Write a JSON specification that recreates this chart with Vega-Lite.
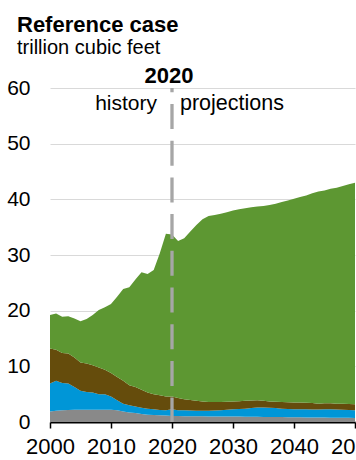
{
  "$schema": "https://vega.github.io/schema/vega-lite/v6.json",
  "width": 305,
  "height": 334,
  "autosize": {"type": "none"},
  "padding": {"left": 50, "top": 88, "right": 1, "bottom": 38},
  "background": "white",
  "config": {"font": "Liberation Sans", "view": {"stroke": null}},
  "title": {
    "text": "Reference case",
    "subtitle": "trillion cubic feet",
    "anchor": "start",
    "frame": "group",
    "fontSize": 22,
    "fontWeight": "bold",
    "color": "black",
    "subtitleFontSize": 20,
    "subtitleColor": "black",
    "subtitlePadding": 1,
    "offset": 6,
    "dx": -33
  },
  "layer": [
    {
      "data": {
        "values": [
          {"year": 2000, "Offshore": 1.9, "Other onshore": 5.0, "Tight gas": 6.3, "Tight oil and shale gas": 6.0},
          {"year": 2001, "Offshore": 2.0, "Other onshore": 5.4, "Tight gas": 5.6, "Tight oil and shale gas": 6.5},
          {"year": 2002, "Offshore": 2.1, "Other onshore": 4.9, "Tight gas": 5.4, "Tight oil and shale gas": 6.5},
          {"year": 2003, "Offshore": 2.15, "Other onshore": 4.75, "Tight gas": 5.4, "Tight oil and shale gas": 6.7},
          {"year": 2004, "Offshore": 2.2, "Other onshore": 4.1, "Tight gas": 5.3, "Tight oil and shale gas": 7.0},
          {"year": 2005, "Offshore": 2.2, "Other onshore": 3.4, "Tight gas": 5.1, "Tight oil and shale gas": 7.4},
          {"year": 2006, "Offshore": 2.2, "Other onshore": 3.2, "Tight gas": 5.1, "Tight oil and shale gas": 8.0},
          {"year": 2007, "Offshore": 2.2, "Other onshore": 3.1, "Tight gas": 4.9, "Tight oil and shale gas": 9.0},
          {"year": 2008, "Offshore": 2.2, "Other onshore": 2.8, "Tight gas": 4.8, "Tight oil and shale gas": 10.3},
          {"year": 2009, "Offshore": 2.2, "Other onshore": 2.8, "Tight gas": 4.4, "Tight oil and shale gas": 11.2},
          {"year": 2010, "Offshore": 2.2, "Other onshore": 2.4, "Tight gas": 4.2, "Tight oil and shale gas": 12.4},
          {"year": 2011, "Offshore": 2.1, "Other onshore": 1.8, "Tight gas": 4.2, "Tight oil and shale gas": 14.4},
          {"year": 2012, "Offshore": 1.9, "Other onshore": 1.4, "Tight gas": 4.1, "Tight oil and shale gas": 16.5},
          {"year": 2013, "Offshore": 1.7, "Other onshore": 1.3, "Tight gas": 3.6, "Tight oil and shale gas": 17.6},
          {"year": 2014, "Offshore": 1.6, "Other onshore": 1.2, "Tight gas": 3.5, "Tight oil and shale gas": 19.3},
          {"year": 2015, "Offshore": 1.45, "Other onshore": 1.1, "Tight gas": 3.25, "Tight oil and shale gas": 21.1},
          {"year": 2016, "Offshore": 1.3, "Other onshore": 1.1, "Tight gas": 2.9, "Tight oil and shale gas": 21.3},
          {"year": 2017, "Offshore": 1.25, "Other onshore": 1.05, "Tight gas": 2.7, "Tight oil and shale gas": 22.3},
          {"year": 2018, "Offshore": 1.2, "Other onshore": 0.95, "Tight gas": 2.65, "Tight oil and shale gas": 25.5},
          {"year": 2019, "Offshore": 1.15, "Other onshore": 0.95, "Tight gas": 2.5, "Tight oil and shale gas": 29.2},
          {"year": 2020, "Offshore": 1.1, "Other onshore": 1.2, "Tight gas": 2.3, "Tight oil and shale gas": 29.1},
          {"year": 2021, "Offshore": 1.1, "Other onshore": 1.0, "Tight gas": 2.2, "Tight oil and shale gas": 28.2},
          {"year": 2022, "Offshore": 1.05, "Other onshore": 1.05, "Tight gas": 2.0, "Tight oil and shale gas": 28.9},
          {"year": 2023, "Offshore": 1.05, "Other onshore": 1.0, "Tight gas": 1.9, "Tight oil and shale gas": 30.25},
          {"year": 2024, "Offshore": 1.05, "Other onshore": 0.95, "Tight gas": 1.8, "Tight oil and shale gas": 31.6},
          {"year": 2025, "Offshore": 1.05, "Other onshore": 0.95, "Tight gas": 1.7, "Tight oil and shale gas": 32.7},
          {"year": 2026, "Offshore": 1.0, "Other onshore": 1.0, "Tight gas": 1.6, "Tight oil and shale gas": 33.4},
          {"year": 2027, "Offshore": 1.0, "Other onshore": 1.05, "Tight gas": 1.55, "Tight oil and shale gas": 33.6},
          {"year": 2028, "Offshore": 1.0, "Other onshore": 1.1, "Tight gas": 1.5, "Tight oil and shale gas": 33.8},
          {"year": 2029, "Offshore": 1.0, "Other onshore": 1.2, "Tight gas": 1.45, "Tight oil and shale gas": 34.05},
          {"year": 2030, "Offshore": 1.0, "Other onshore": 1.3, "Tight gas": 1.4, "Tight oil and shale gas": 34.3},
          {"year": 2031, "Offshore": 1.0, "Other onshore": 1.35, "Tight gas": 1.4, "Tight oil and shale gas": 34.45},
          {"year": 2032, "Offshore": 0.95, "Other onshore": 1.45, "Tight gas": 1.4, "Tight oil and shale gas": 34.6},
          {"year": 2033, "Offshore": 0.95, "Other onshore": 1.55, "Tight gas": 1.35, "Tight oil and shale gas": 34.75},
          {"year": 2034, "Offshore": 0.95, "Other onshore": 1.65, "Tight gas": 1.3, "Tight oil and shale gas": 34.8},
          {"year": 2035, "Offshore": 0.9, "Other onshore": 1.7, "Tight gas": 1.2, "Tight oil and shale gas": 35.0},
          {"year": 2036, "Offshore": 0.9, "Other onshore": 1.65, "Tight gas": 1.15, "Tight oil and shale gas": 35.3},
          {"year": 2037, "Offshore": 0.9, "Other onshore": 1.6, "Tight gas": 1.15, "Tight oil and shale gas": 35.55},
          {"year": 2038, "Offshore": 0.9, "Other onshore": 1.5, "Tight gas": 1.2, "Tight oil and shale gas": 35.9},
          {"year": 2039, "Offshore": 0.85, "Other onshore": 1.5, "Tight gas": 1.2, "Tight oil and shale gas": 36.25},
          {"year": 2040, "Offshore": 0.85, "Other onshore": 1.45, "Tight gas": 1.2, "Tight oil and shale gas": 36.6},
          {"year": 2041, "Offshore": 0.85, "Other onshore": 1.45, "Tight gas": 1.2, "Tight oil and shale gas": 36.9},
          {"year": 2042, "Offshore": 0.8, "Other onshore": 1.5, "Tight gas": 1.15, "Tight oil and shale gas": 37.25},
          {"year": 2043, "Offshore": 0.8, "Other onshore": 1.45, "Tight gas": 1.15, "Tight oil and shale gas": 37.7},
          {"year": 2044, "Offshore": 0.8, "Other onshore": 1.45, "Tight gas": 1.05, "Tight oil and shale gas": 38.1},
          {"year": 2045, "Offshore": 0.8, "Other onshore": 1.5, "Tight gas": 1.05, "Tight oil and shale gas": 38.25},
          {"year": 2046, "Offshore": 0.75, "Other onshore": 1.55, "Tight gas": 1.05, "Tight oil and shale gas": 38.55},
          {"year": 2047, "Offshore": 0.75, "Other onshore": 1.5, "Tight gas": 1.05, "Tight oil and shale gas": 38.8},
          {"year": 2048, "Offshore": 0.75, "Other onshore": 1.45, "Tight gas": 1.1, "Tight oil and shale gas": 39.1},
          {"year": 2049, "Offshore": 0.75, "Other onshore": 1.4, "Tight gas": 1.1, "Tight oil and shale gas": 39.45},
          {"year": 2050, "Offshore": 0.72, "Other onshore": 1.38, "Tight gas": 1.1, "Tight oil and shale gas": 39.8}
        ]
      },
      "transform": [{"fold": ["Offshore", "Other onshore", "Tight gas", "Tight oil and shale gas"], "as": ["source", "value"]}],
      "mark": {"type": "area", "interpolate": "linear"},
      "encoding": {
        "x": {
          "field": "year",
          "type": "quantitative",
          "scale": {"domain": [2000, 2050], "nice": false, "zero": false},
          "axis": {
            "title": null,
            "values": [2000, 2010, 2020, 2030, 2040, 2050],
            "format": "d",
            "grid": false,
            "domainColor": "black",
            "domainWidth": 2,
            "tickColor": "black",
            "tickSize": 6,
            "tickWidth": 1.5,
            "labelFontSize": 22,
            "labelColor": "black",
            "labelPadding": 8,
            "labelFlush": false,
            "labelOverlap": false
          }
        },
        "y": {
          "field": "value",
          "type": "quantitative",
          "stack": "zero",
          "scale": {"domain": [0, 60], "nice": false},
          "axis": {
            "title": null,
            "values": [0, 10, 20, 30, 40, 50, 60],
            "domain": false,
            "ticks": false,
            "tickSize": 0,
            "labelPadding": 20,
            "labelFontSize": 21,
            "labelColor": "black",
            "gridColor": "#d9d9d9",
            "gridWidth": 1
          }
        },
        "color": {
          "field": "source",
          "type": "nominal",
          "scale": {
            "domain": ["Tight oil and shale gas", "Tight gas", "Other onshore", "Offshore"],
            "range": ["#5d9732", "#654c0c", "#0096d7", "#898989"]
          },
          "legend": null
        },
        "order": {"field": "source", "sort": "ascending"}
      }
    },
    {
      "data": {"values": [{}]},
      "mark": {"type": "rule", "color": "#a6a6a6", "strokeWidth": 3.3, "strokeDash": [25, 11.7], "strokeDashOffset": 20.7},
      "encoding": {"x": {"datum": 2020, "type": "quantitative"}, "y": {"datum": 60, "type": "quantitative"}, "y2": {"datum": 0}}
    },
    {
      "data": {"values": [{}]},
      "mark": {"type": "text", "text": "2020", "fontSize": 22, "fontWeight": "bold", "align": "center", "baseline": "alphabetic", "dx": -3, "color": "black"},
      "encoding": {"x": {"datum": 2020, "type": "quantitative"}, "y": {"datum": 60.9, "type": "quantitative"}}
    },
    {
      "data": {"values": [{}]},
      "mark": {"type": "text", "text": "history", "fontSize": 21, "align": "right", "baseline": "alphabetic", "dx": -15, "color": "black"},
      "encoding": {"x": {"datum": 2020, "type": "quantitative"}, "y": {"datum": 56, "type": "quantitative"}}
    },
    {
      "data": {"values": [{}]},
      "mark": {"type": "text", "text": "projections", "fontSize": 21.5, "align": "left", "baseline": "alphabetic", "dx": 8, "color": "black"},
      "encoding": {"x": {"datum": 2020, "type": "quantitative"}, "y": {"datum": 56, "type": "quantitative"}}
    }
  ]
}
